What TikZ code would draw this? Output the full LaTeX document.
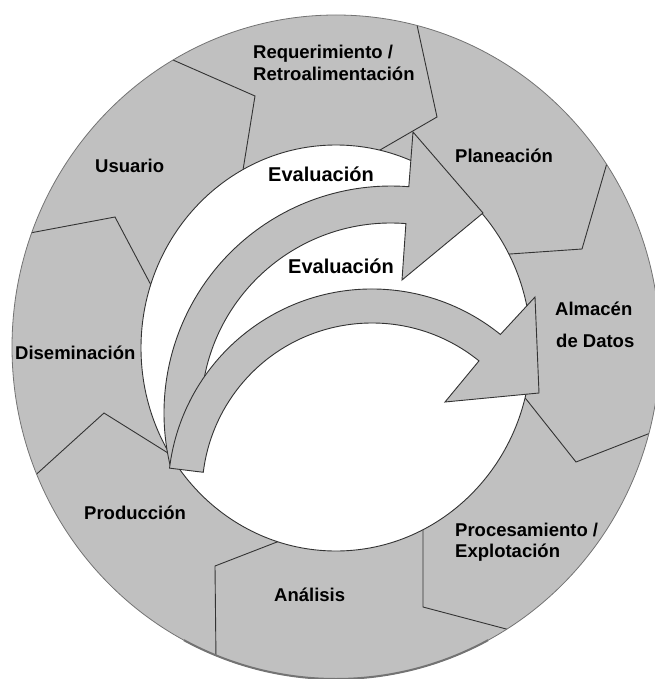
\documentclass[tikz,border=0pt]{standalone}
\usepackage{fontspec}
\setmainfont{Liberation Sans}
\usetikzlibrary{calc}
\definecolor{ringgray}{gray}{0.753}
\definecolor{edgegray}{gray}{0.2}
\definecolor{rimgray}{gray}{0.45}
\begin{document}
\begin{tikzpicture}[x=1pt,y=-1pt,
  seg/.style={draw=edgegray, line width=0.9pt, line join=miter},
  band/.style={fill=ringgray, draw=edgegray, line width=0.9pt, line join=miter},
  lbl/.style={font=\bfseries\fontsize{18.5}{22}\selectfont, inner sep=0pt, anchor=base west},
  evl/.style={font=\bfseries\fontsize{20}{24}\selectfont, inner sep=0pt, anchor=base west}]
\useasboundingbox (0,0) rectangle (654,679);

% ring centres
\coordinate (oc) at (336,347);
\coordinate (ic) at (336,348);

% grey ring
\fill[ringgray] (oc) ellipse [x radius=324, y radius=332];

% chevron boundaries: outer end, notch, inner end
\coordinate (p1) at (173,60);  \coordinate (v1) at (255,96);  \coordinate (q1) at (243,170);
\coordinate (p2) at (417,25);  \coordinate (v2) at (437,117); \coordinate (q2) at (380,150);
\coordinate (p3) at (607,163); \coordinate (v3) at (582,249); \coordinate (q3) at (510,254);
\coordinate (p4) at (653,432); \coordinate (v4) at (576,462); \coordinate (q4) at (526,399);
\coordinate (p5) at (510,630); \coordinate (v5) at (423,607); \coordinate (q5) at (423,528);
\coordinate (p6) at (216,660); \coordinate (v6) at (215,566); \coordinate (q6) at (277,542);
\coordinate (p7) at (40,471);  \coordinate (v7) at (104,413); \coordinate (q7) at (168,453);
\coordinate (p8) at (30,233);  \coordinate (v8) at (115,217); \coordinate (q8) at (152,287);
\begin{scope}
  \clip (oc) ellipse [x radius=324, y radius=332];
  \foreach \k in {1,...,8}{
    \draw[seg] ($(v\k)!1.25!(p\k)$) -- (v\k) -- ($(v\k)!1.2!(q\k)$);
  }
\end{scope}

% white hub
\fill[white] (ic) ellipse [x radius=195, y radius=203];
\draw[edgegray, line width=0.9pt] (ic) ellipse [x radius=195, y radius=203];
\draw[rimgray, line width=0.8pt] (oc) ellipse [x radius=324, y radius=332];
\draw[rimgray, line width=2pt] ($(oc)+(62:324 and 332)$)
  arc[start angle=62, end angle=118, x radius=324, y radius=332];

% upper curved arrow
\coordinate (ac) at (391,413);
\draw[band] ($(ac)+(167:227)$) arc[start angle=167, end angle=274.5, radius=227]
  -- (413,132) -- (483,213) -- (402,280)
  -- ($(ac)+(274.5:190)$) arc[start angle=274.5, end angle=185, radius=190] -- cycle;

% lower curved arrow
\coordinate (cc) at (372,493);
\draw[band] ($(cc)+(187:204)$) arc[start angle=187, end angle=309, radius=204]
  -- (535,297) -- (539,393) -- (445,402)
  -- ($(cc)+(309:170)$) arc[start angle=309, end angle=187, radius=170] -- cycle;

% labels
\node[lbl] (req1) at (253,59) {Requerimiento /};
\node[lbl] (req2) at (253,81) {Retroalimentación};
\node[lbl] (usr)  at (95,172) {Usuario};
\node[lbl] (plan) at (455,162) {Planeación};
\node[lbl] (alm1) at (555,315) {Almacén};
\node[lbl] (alm2) at (556,347) {de Datos};
\node[lbl] (proc1) at (455,536) {Procesamiento /};
\node[lbl] (proc2) at (455,557) {Explotación};
\node[lbl] (ana)  at (274,601) {Análisis};
\node[lbl] (prod) at (84,519) {Producción};
\node[lbl] (dis)  at (15,359) {Diseminación};
\node[evl] (ev1)  at (268,182) {Evaluación};
\node[evl] (ev2)  at (288,273) {Evaluación};
\end{tikzpicture}
\end{document}
